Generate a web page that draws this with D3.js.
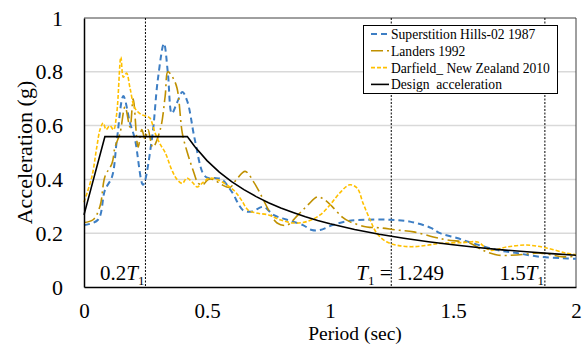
<!DOCTYPE html>
<html>
<head>
<meta charset="utf-8">
<script src="https://cdn.jsdelivr.net/npm/d3@7"></script>
<style>
  body { margin: 0; background: #fff; }
  svg text { font-family: "Liberation Serif", "Times New Roman", serif; fill: #000; }
</style>
</head>
<body>
<svg id="chart" width="588" height="344"></svg>
<script>
// data
const superT = [0, 0.057, 0.085, 0.114, 0.134, 0.16, 0.187, 0.207, 0.24, 0.276, 0.30, 0.325, 0.341, 0.357, 0.378, 0.40, 0.42, 0.45, 0.485, 0.505, 0.53, 0.56, 0.60, 0.647, 0.68, 0.73, 0.77, 0.825, 0.89, 0.926, 0.96, 1.01, 1.07, 1.15, 1.244, 1.325, 1.41, 1.447, 1.516, 1.58, 1.68, 1.76, 1.855, 1.948, 2.0];
const superA = [0.23, 0.25, 0.36, 0.41, 0.55, 0.71, 0.61, 0.55, 0.38, 0.55, 0.77, 0.905, 0.795, 0.645, 0.685, 0.725, 0.69, 0.55, 0.42, 0.405, 0.405, 0.40, 0.355, 0.285, 0.28, 0.298, 0.268, 0.25, 0.23, 0.212, 0.212, 0.23, 0.245, 0.25, 0.25, 0.243, 0.22, 0.20, 0.182, 0.163, 0.137, 0.126, 0.112, 0.107, 0.105];

const landersT = [0, 0.037, 0.065, 0.085, 0.114, 0.126, 0.146, 0.167, 0.187, 0.2, 0.22, 0.235, 0.248, 0.26, 0.28, 0.31, 0.33, 0.341, 0.36, 0.378, 0.40, 0.42, 0.443, 0.465, 0.483, 0.505, 0.525, 0.56, 0.593, 0.62, 0.655, 0.69, 0.715, 0.75, 0.785, 0.825, 0.87, 0.91, 0.95, 0.98, 1.01, 1.05, 1.08, 1.15, 1.203, 1.27, 1.34, 1.42, 1.475, 1.57, 1.62, 1.68, 1.76, 1.855, 1.948, 2.0];
const landersA = [0.24, 0.25, 0.30, 0.41, 0.46, 0.52, 0.57, 0.67, 0.595, 0.70, 0.52, 0.585, 0.55, 0.585, 0.52, 0.585, 0.71, 0.80, 0.78, 0.74, 0.57, 0.50, 0.435, 0.385, 0.38, 0.40, 0.40, 0.38, 0.37, 0.40, 0.43, 0.39, 0.35, 0.287, 0.238, 0.23, 0.268, 0.305, 0.335, 0.323, 0.298, 0.26, 0.243, 0.223, 0.22, 0.212, 0.205, 0.186, 0.175, 0.163, 0.137, 0.119, 0.119, 0.126, 0.112, 0.115];

const darfT = [0, 0.032, 0.052, 0.065, 0.078, 0.09, 0.105, 0.12, 0.133, 0.15, 0.16, 0.173, 0.187, 0.207, 0.235, 0.255, 0.268, 0.29, 0.31, 0.33, 0.357, 0.378, 0.40, 0.418, 0.44, 0.46, 0.485, 0.51, 0.54, 0.58, 0.614, 0.64, 0.667, 0.70, 0.75, 0.797, 0.85, 0.905, 0.96, 1.0, 1.04, 1.08, 1.11, 1.135, 1.163, 1.19, 1.23, 1.285, 1.34, 1.394, 1.447, 1.54, 1.6, 1.65, 1.72, 1.8, 1.88, 1.96, 2.0];
const darfA = [0.315, 0.41, 0.52, 0.585, 0.61, 0.585, 0.60, 0.585, 0.645, 0.855, 0.78, 0.795, 0.74, 0.665, 0.64, 0.635, 0.628, 0.57, 0.53, 0.50, 0.435, 0.40, 0.385, 0.405, 0.39, 0.372, 0.39, 0.405, 0.40, 0.38, 0.355, 0.323, 0.286, 0.275, 0.268, 0.25, 0.238, 0.243, 0.268, 0.305, 0.35, 0.38, 0.368, 0.31, 0.25, 0.20, 0.168, 0.153, 0.15, 0.155, 0.162, 0.165, 0.167, 0.137, 0.149, 0.156, 0.145, 0.126, 0.12];

const designT = [0, 0.085, 0.42, 0.45, 0.5, 0.55, 0.6, 0.65, 0.7, 0.75, 0.8, 0.85, 0.9, 0.95, 1.0, 1.1, 1.2, 1.3, 1.4, 1.5, 1.6, 1.7, 1.8, 1.9, 2.0];
const designA = [0.268, 0.559, 0.559, 0.522, 0.47, 0.427, 0.392, 0.362, 0.336, 0.313, 0.294, 0.277, 0.261, 0.247, 0.235, 0.214, 0.196, 0.181, 0.168, 0.157, 0.147, 0.138, 0.131, 0.124, 0.118];

const xTicks = [0, 0.5, 1, 1.5, 2];
const yTicks = [0, 0.2, 0.4, 0.6, 0.8, 1];
const T1 = 1.249;
const markerT = [0.2 * T1, T1, 1.5 * T1];

const seriesNames = ["Superstition Hills-02 1987", "Landers 1992", "Darfield_ New Zealand 2010", "Design\u00a0 acceleration"];

const svg = d3.select("#chart");
const mLeft = 84, mRight = 576, mTop = 18, mBottom = 287;
const serif = "'Liberation Serif', 'Times New Roman', serif";

const x = d3.scaleLinear().domain([0, 2]).range([mLeft, mRight]);
const y = d3.scaleLinear().domain([0, 1]).range([mBottom, mTop]);

// gridlines
svg.append("g")
  .selectAll("line")
  .data(yTicks.filter(d => d > 0 && d < 1))
  .enter().append("line")
  .attr("x1", mLeft).attr("x2", mRight)
  .attr("y1", d => y(d)).attr("y2", d => y(d))
  .attr("stroke", "#d9d9d9").attr("stroke-width", 1.5);

// plot frame (top/right)
svg.append("path")
  .attr("d", `M${mLeft},${mTop}H${mRight}V${mBottom}`)
  .attr("fill", "none").attr("stroke", "#404040").attr("stroke-width", 1);

// period markers
svg.append("g")
  .selectAll("line")
  .data(markerT)
  .enter().append("line")
  .attr("x1", d => x(d)).attr("x2", d => x(d))
  .attr("y1", mTop).attr("y2", mBottom)
  .attr("stroke", "#000").attr("stroke-width", 1)
  .attr("stroke-dasharray", "2,1.5");

// lines
const smooth = d3.line()
  .x(d => x(d[0])).y(d => y(d[1]))
  .curve(d3.curveCatmullRom.alpha(0.5));
const straight = d3.line()
  .x(d => x(d[0])).y(d => y(d[1]));

const series = [
  { T: superT, A: superA, color: "#3d7ec4", dash: "6,4", w: 2 },
  { T: landersT, A: landersA, color: "#bf9000", dash: "12,4,2,4", w: 1.6 },
  { T: darfT, A: darfA, color: "#ffc000", dash: "4,2", w: 1.6 },
  { T: designT, A: designA, color: "#000", dash: null, w: 1.6 }
];

series.forEach(s => {
  const pts = d3.zip(s.T, s.A);
  svg.append("path")
    .datum(pts)
    .attr("d", s.dash ? smooth : straight)
    .attr("fill", "none")
    .attr("stroke", s.color)
    .attr("stroke-width", s.w)
    .attr("stroke-dasharray", s.dash);
});

// axes
const xAxis = svg.append("g")
  .attr("transform", `translate(0,${mBottom})`)
  .call(d3.axisBottom(x).tickValues(xTicks).tickSize(0).tickPadding(16).tickFormat(d3.format("")))
  .attr("font-family", serif).attr("font-size", 21);
xAxis.select(".domain").attr("stroke", "#000").attr("stroke-width", 1.5);

const yAxis = svg.append("g")
  .attr("transform", `translate(${mLeft},0)`)
  .call(d3.axisLeft(y).tickValues(yTicks).tickSize(0).tickPadding(21).tickFormat(d3.format("")))
  .attr("font-family", serif).attr("font-size", 22);
yAxis.select(".domain").attr("stroke", "#000").attr("stroke-width", 1.5);

// axis titles
svg.append("text")
  .attr("x", 355).attr("y", 340)
  .attr("text-anchor", "middle")
  .attr("font-family", serif)
  .attr("font-size", 19.5)
  .text("Period (sec)");

svg.append("text")
  .attr("transform", `translate(32,${(mTop + mBottom) / 2}) rotate(-90)`)
  .attr("text-anchor", "middle")
  .attr("font-family", serif)
  .attr("font-size", 22)
  .text("Acceleration (g)");

// marker labels
function markLabel(xEnd, parts) {
  const t = svg.append("text")
    .attr("x", xEnd).attr("y", 280)
    .attr("text-anchor", "end")
    .attr("font-family", serif)
    .attr("font-size", 21);
  parts.forEach(p => {
    const ts = t.append("tspan").text(p.s);
    if (p.it) ts.attr("font-style", "italic");
    if (p.sub) ts.attr("dy", 5).attr("font-size", 13);
    if (p.up) ts.attr("dy", -5);
  });
}
markLabel(x(markerT[0]) - 1, [{ s: "0.2" }, { s: "T", it: true }, { s: "1", sub: true }]);
markLabel(444, [{ s: "T", it: true }, { s: "1", sub: true }, { s: "\u00a0= 1.249", up: true }]);
markLabel(x(markerT[2]) - 1, [{ s: "1.5" }, { s: "T", it: true }, { s: "1", sub: true }]);

// legend
const lg = svg.append("g");
lg.append("rect")
  .attr("x", 363.5).attr("y", 25.5).attr("width", 194).attr("height", 68)
  .attr("fill", "#fff").attr("stroke", "#000").attr("stroke-width", 1);
series.forEach((s, i) => {
  const ly = 34 + i * 16.8;
  lg.append("line")
    .attr("x1", 371).attr("x2", 389).attr("y1", ly).attr("y2", ly)
    .attr("stroke", s.color).attr("stroke-width", s.w)
    .attr("stroke-dasharray", s.dash);
  lg.append("text")
    .attr("x", 391).attr("y", ly + 5)
    .attr("font-family", serif)
    .attr("font-size", 13.6)
    .text(seriesNames[i]);
});
</script>
</body>
</html>
